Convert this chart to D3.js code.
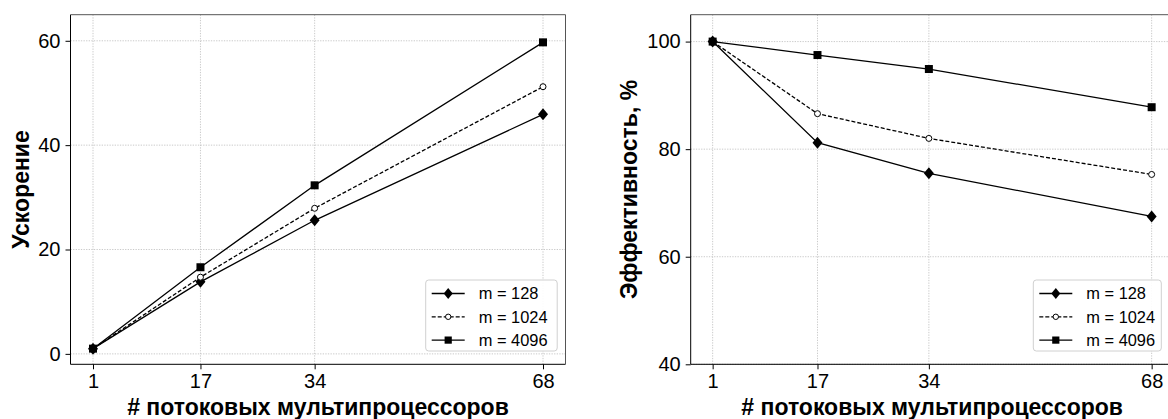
<!DOCTYPE html>
<html><head><meta charset="utf-8">
<script src="https://cdn.jsdelivr.net/npm/d3@7"></script>
<style>
html,body{margin:0;padding:0;background:#fff;}
svg{display:block;font-family:"Liberation Sans",Arial,sans-serif;}
</style></head>
<body><svg id="c" width="1168" height="419"></svg>
<script>
// ---- data ----
const processors = [1, 17, 34, 68];
const seriesNames = ["m = 128", "m = 1024", "m = 4096"];
const speedup128 = [1, 13.8, 25.6, 45.9];
const speedup1024 = [1, 14.7, 27.9, 51.2];
const speedup4096 = [1, 16.6, 32.3, 59.7];
const eff128 = [100, 81.2, 75.5, 67.5];
const eff1024 = [100, 86.6, 82.0, 75.3];
const eff4096 = [100, 97.5, 94.9, 87.8];
const speedupTicks = [0, 20, 40, 60];
const effTicks = [40, 60, 80, 100];
const xLabel = "# потоковых мультипроцессоров";
const yLabelLeft = "Ускорение";
const yLabelRight = "Эффективность, %";

const svg = d3.select("#c");
const styles = [
  {marker: "diamond", dash: null},
  {marker: "circle", dash: "4,2"},
  {marker: "square", dash: null}
];

function marker(g, type, x, y, big) {
  const s = big ? 1 : 0.9;
  if (type === "diamond") {
    const w = 5 * s, h = 6 * s;
    g.append("path").attr("d", `M${x},${y-h}L${x+w},${y}L${x},${y+h}L${x-w},${y}Z`).attr("fill", "#000");
  } else if (type === "square") {
    const a = 4 * s;
    g.append("rect").attr("x", x - a).attr("y", y - a).attr("width", 2*a).attr("height", 2*a).attr("fill", "#000");
  } else {
    g.append("circle").attr("cx", x).attr("cy", y).attr("r", 3 * s).attr("fill", "#fff").attr("stroke", "#000").attr("stroke-width", 1);
  }
}

function panel(opts) {
  const {left, right, top, bottom, xDomain, yDomain, yTicks, series, yLabel, yLabelX, legend} = opts;
  const x = d3.scaleLinear().domain(xDomain).range([left, right]);
  const y = d3.scaleLinear().domain(yDomain).range([bottom, top]);
  const g = svg.append("g");

  // grid
  const grid = g.append("g").attr("stroke", "#c4c4c4").attr("stroke-width", 0.9).attr("stroke-dasharray", "1.3,1.3");
  processors.forEach(v => grid.append("line").attr("x1", x(v)).attr("x2", x(v)).attr("y1", top).attr("y2", bottom));
  yTicks.forEach(v => grid.append("line").attr("x1", left).attr("x2", right).attr("y1", y(v)).attr("y2", y(v)));

  // axes
  const xa = g.append("g").attr("transform", `translate(0,${bottom})`)
    .call(d3.axisBottom(x).tickValues(processors).tickFormat(d3.format("d")).tickSize(5).tickPadding(5));
  const ya = g.append("g").attr("transform", `translate(${left},0)`)
    .call(d3.axisLeft(y).tickValues(yTicks).tickFormat(d3.format("d")).tickSize(5).tickPadding(5));
  [xa, ya].forEach(a => {
    a.select(".domain").remove();
    a.attr("font-size", 20).attr("font-family", "Liberation Sans, Arial, sans-serif");
    a.selectAll("text").attr("font-size", 20).attr("fill", "#000");
    a.selectAll("line").attr("stroke", "#000");
  });

  // lines and markers
  const line = d3.line().x((d, i) => x(processors[i])).y(d => y(d));
  series.forEach((vals, k) => {
    g.append("path").datum(vals).attr("d", line).attr("fill", "none").attr("stroke", "#000")
      .attr("stroke-width", 1.3).attr("stroke-dasharray", styles[k].dash);
  });
  series.forEach((vals, k) => {
    vals.forEach((v, i) => marker(g, styles[k].marker, x(processors[i]), y(v), true));
  });

  // frame
  g.append("line").attr("x1", left).attr("x2", left).attr("y1", top).attr("y2", bottom).attr("stroke", "#000");
  g.append("line").attr("x1", left).attr("x2", right).attr("y1", bottom).attr("y2", bottom).attr("stroke", "#000");
  g.append("line").attr("x1", left).attr("x2", right).attr("y1", top).attr("y2", top).attr("stroke", "#555");
  g.append("line").attr("x1", right).attr("x2", right).attr("y1", top).attr("y2", bottom).attr("stroke", "#555");

  // legend
  const lg = g.append("g").attr("transform", `translate(${legend.x},${legend.y})`);
  lg.append("rect").attr("width", legend.w).attr("height", 71).attr("rx", 3).attr("fill", "#fff").attr("fill-opacity", 0.9)
    .attr("stroke", "#d0d0d0").attr("stroke-width", 1);
  seriesNames.forEach((name, k) => {
    const ry = 13.5 + k * 23.3;
    lg.append("line").attr("x1", 6).attr("x2", 39).attr("y1", ry).attr("y2", ry).attr("stroke", "#000")
      .attr("stroke-width", 1.3).attr("stroke-dasharray", styles[k].dash);
    marker(lg, styles[k].marker, 22.5, ry, false);
    lg.append("text").attr("x", 53).attr("y", ry).attr("dy", "0.36em").attr("font-size", 16.4).text(name);
  });

  // labels
  g.append("text").attr("x", (left + right) / 2).attr("y", 414.5).attr("text-anchor", "middle")
    .attr("font-size", 23).attr("font-weight", "bold").text(xLabel);
  g.append("text").attr("transform", `translate(${yLabelX},${(top + bottom) / 2}) rotate(-90)`).attr("text-anchor", "middle")
    .attr("font-size", 23).attr("font-weight", "bold").text(yLabel);
}

panel({left: 70.5, right: 565.5, top: 14.7, bottom: 364.3, xDomain: [-2.35, 71.35], yDomain: [-2, 65],
  yTicks: speedupTicks, series: [speedup128, speedup1024, speedup4096], yLabel: yLabelLeft, yLabelX: 28.5,
  legend: {x: 425.7, y: 280, w: 131.5}});
panel({left: 690.7, right: 1173.6, top: 14.7, bottom: 364.3, xDomain: [-2.35, 71.35], yDomain: [40, 105],
  yTicks: effTicks, series: [eff128, eff1024, eff4096], yLabel: yLabelRight, yLabelX: 637,
  legend: {x: 1033.3, y: 280, w: 128}});
</script></body></html>
